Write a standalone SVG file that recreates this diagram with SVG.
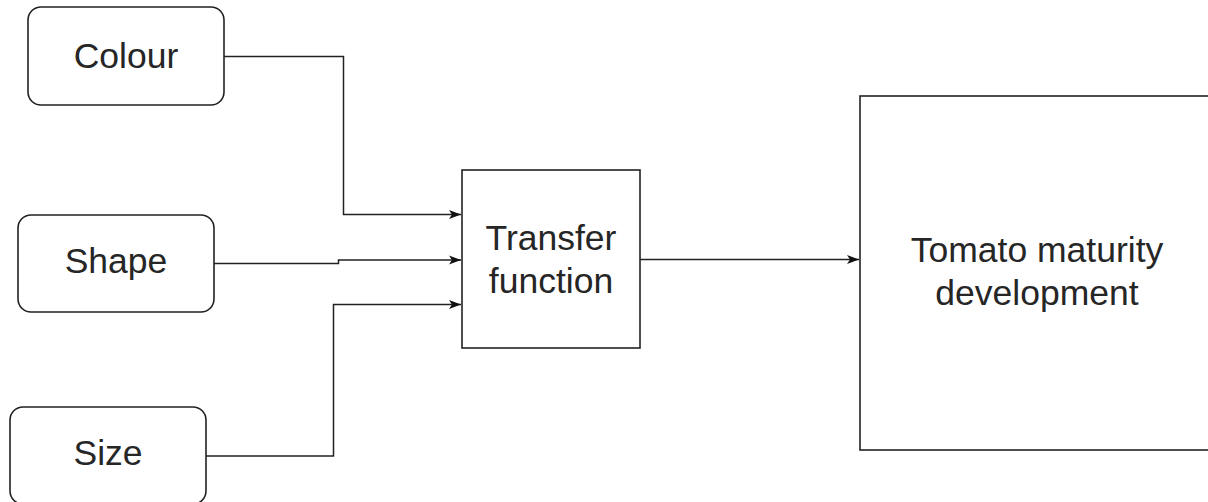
<svg xmlns="http://www.w3.org/2000/svg" width="1208" height="502" viewBox="0 0 1208 502">
<defs>
<style>
.box{fill:#fff;stroke:#222;stroke-width:1.6}
.lbl{font-family:"Liberation Sans",Arial,sans-serif;font-size:35.5px;fill:#262626;text-anchor:middle}
.edge{fill:none;stroke:#222;stroke-width:1.5}
</style>
<marker id="arr" viewBox="0 0 12 10" refX="12" refY="5" markerWidth="12" markerHeight="10" markerUnits="userSpaceOnUse" orient="auto">
<path d="M0,0.5 L12,5 L0,9.5 L3,5 Z" fill="#111"/>
</marker>
</defs>
<rect width="1208" height="502" fill="#fff"/>
<g id="colour"><rect class="box" x="28" y="7" width="196" height="98" rx="13"/><text class="lbl" x="126" y="68">Colour</text></g>
<g id="shape"><rect class="box" x="18" y="215" width="196" height="97" rx="13"/><text class="lbl" x="116" y="273">Shape</text></g>
<g id="size"><rect class="box" x="10" y="407" width="196" height="97" rx="13"/><text class="lbl" x="108" y="465">Size</text></g>
<g id="transfer"><rect class="box" x="462" y="170" width="178" height="178"/><text class="lbl" x="551" y="250">Transfer</text><text class="lbl" x="551" y="293">function</text></g>
<g id="tomato"><rect class="box" x="860" y="96" width="360" height="354"/><text class="lbl" x="1037" y="262">Tomato maturity</text><text class="lbl" x="1037" y="305">development</text></g>
<g id="connectors">
<path class="edge" d="M224,56.5 H343.5 V214.5 H461" marker-end="url(#arr)"/>
<path class="edge" d="M214,263.5 H338.5 V260 H461" marker-end="url(#arr)"/>
<path class="edge" d="M206,456 H333.5 V304.5 H461" marker-end="url(#arr)"/>
<path class="edge" d="M640,259.5 H859" marker-end="url(#arr)"/>
</g>
</svg>
